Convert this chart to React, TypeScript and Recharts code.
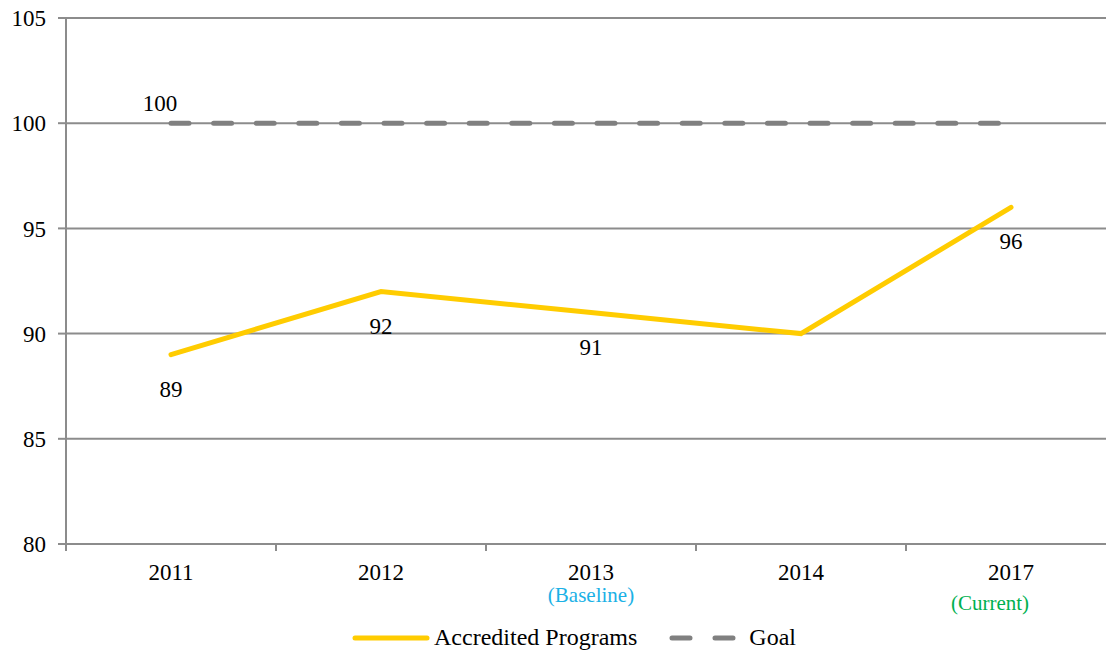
import React from "react";
import { LineChart, Line, CartesianGrid, XAxis, YAxis, Legend, LabelList } from "recharts";

const years = ["2011", "2012", "2013", "2014", "2017"];
const accredited = [89, 92, 91, 90, 96];
const goal = [100, 100, 100, 100, 100];
const subLabels = ["", "", "(Baseline)", "", "(Current)"];
const accreditedLabelShown = [true, true, true, false, true];
const yTicks = [80, 85, 90, 95, 100, 105];

const data = years.map((year, i) => ({
  year,
  accredited: accredited[i],
  goal: goal[i],
}));

const FONT = '"Liberation Serif", "Times New Roman", serif';
const YELLOW = "#FFCC00";
const GRAY = "#808080";
const GRID = "#8c8c8c";
const FS = 23;

const CHART_W = 1130;
const CHART_H = 651;
const MARGIN = { top: 18, right: 14, left: 0, bottom: 0 };
const Y_AXIS_W = 66;
const HALF_BAND = (CHART_W - MARGIN.left - MARGIN.right - Y_AXIS_W) / years.length / 2;

// sub label styles (colour + nudge) keyed by text
const subStyle: Record<string, { fill: string; dx: number; dy: number }> = {
  "(Baseline)": { fill: "#1BB1E6", dx: 0, dy: 58 },
  "(Current)": { fill: "#00B050", dx: -21, dy: 66 },
};

const XTick = (props: any) => {
  const { x, y, index, payload } = props;
  const sub = subLabels[index];
  const st = subStyle[sub];
  return (
    <g>
      <line x1={x - HALF_BAND} x2={x - HALF_BAND} y1={y} y2={y + 7} stroke={GRID} strokeWidth={2} />
      <text x={x} y={y + 36} textAnchor="middle" fontSize={FS} fontFamily={FONT} fill="#000">
        {payload.value}
      </text>
      {sub && st ? (
        <text x={x + st.dx} y={y + st.dy} textAnchor="middle" fontSize={21} fontFamily={FONT} fill={st.fill}>
          {sub}
        </text>
      ) : null}
    </g>
  );
};

const accreditedLabel = (props: any) => {
  const { x, y, value, index } = props;
  if (!accreditedLabelShown[index]) return null;
  return (
    <text x={x} y={y + 42} textAnchor="middle" fontSize={FS} fontFamily={FONT} fill="#000">
      {value}
    </text>
  );
};

const goalLabel = (props: any) => {
  const { x, y, value, index } = props;
  if (index !== 0) return null;
  return (
    <text x={x - 11} y={y - 12} textAnchor="middle" fontSize={FS} fontFamily={FONT} fill="#000">
      {value}
    </text>
  );
};

const renderLegend = () => (
  <div
    style={{
      display: "flex",
      justifyContent: "center",
      alignItems: "center",
      height: 27,
      paddingLeft: 32,
      fontFamily: FONT,
      fontSize: 24,
      color: "#000",
    }}
  >
    <svg width={78} height={10} style={{ marginRight: 4 }}>
      <line x1={3} x2={75} y1={5} y2={5} stroke={YELLOW} strokeWidth={5} strokeLinecap="round" />
    </svg>
    <span>Accredited Programs</span>
    <svg width={70} height={10} style={{ marginLeft: 32, marginRight: 10 }}>
      <line x1={3} x2={67} y1={5} y2={5} stroke={GRAY} strokeWidth={5} strokeLinecap="round" strokeDasharray="18 25" />
    </svg>
    <span>Goal</span>
  </div>
);

export default function App() {
  return (
    <div style={{ position: "absolute", left: 0, top: 0, width: 1106, height: 651, overflow: "hidden", background: "#fff" }}>
      <LineChart width={CHART_W} height={CHART_H} data={data} margin={MARGIN}>
        <CartesianGrid vertical={false} stroke={GRID} strokeWidth={2} />
        <XAxis
          dataKey="year"
          height={80}
          padding={{ left: HALF_BAND, right: HALF_BAND }}
          axisLine={{ stroke: GRID, strokeWidth: 2 }}
          tickLine={false}
          tickSize={0}
          tickMargin={0}
          tick={<XTick />}
          interval={0}
        />
        <YAxis
          width={Y_AXIS_W}
          domain={[80, 105]}
          ticks={yTicks}
          interval={0}
          axisLine={{ stroke: GRID, strokeWidth: 2 }}
          tickLine={{ stroke: GRID, strokeWidth: 2 }}
          tickSize={8}
          tickMargin={12}
          tick={{ fontSize: FS, fontFamily: FONT, fill: "#000" }}
        />
        <Legend verticalAlign="bottom" content={renderLegend} />
        <Line
          dataKey="accredited"
          name="Accredited Programs"
          stroke={YELLOW}
          strokeWidth={5}
          strokeLinecap="round"
          dot={false}
          activeDot={false}
          isAnimationActive={false}
        >
          <LabelList dataKey="accredited" content={accreditedLabel} />
        </Line>
        <Line
          dataKey="goal"
          name="Goal"
          stroke={GRAY}
          strokeWidth={5}
          strokeLinecap="round"
          strokeDasharray="18 24.6"
          dot={false}
          activeDot={false}
          isAnimationActive={false}
        >
          <LabelList dataKey="goal" content={goalLabel} />
        </Line>
      </LineChart>
    </div>
  );
}
